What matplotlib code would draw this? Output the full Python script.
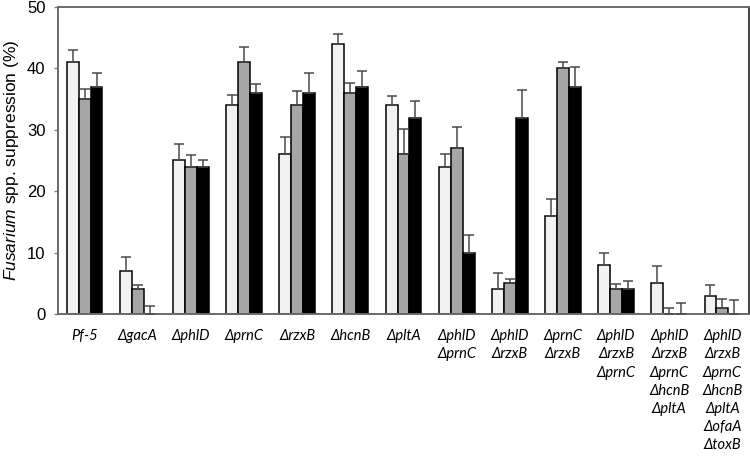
import numpy as np
import matplotlib
matplotlib.use("Agg")
import matplotlib.pyplot as plt

plt.rcParams['mathtext.fontset'] = 'custom'
plt.rcParams['mathtext.rm'] = 'Liberation Sans'
plt.rcParams['mathtext.it'] = 'Liberation Sans:italic'

# ---------------- data ----------------
strains = ["Pf-5", "ΔgacA", "ΔphlD", "ΔprnC", "ΔrzxB", "ΔhcnB", "ΔpltA",
           "ΔphlD\nΔprnC", "ΔphlD\nΔrzxB", "ΔprnC\nΔrzxB",
           "ΔphlD\nΔrzxB\nΔprnC",
           "ΔphlD\nΔrzxB\nΔprnC\nΔhcnB\nΔpltA",
           "ΔphlD\nΔrzxB\nΔprnC\nΔhcnB\nΔpltA\nΔofaA\nΔtoxB"]

light = [41, 7, 25, 34, 26, 44, 34, 24, 4, 16, 8, 5, 3]
light_err = [2.0, 2.3, 2.7, 1.6, 2.8, 1.6, 1.5, 2.1, 2.6, 2.7, 1.9, 2.8, 1.8]

grey = [35, 4, 24, 41, 34, 36, 26, 27, 5, 40, 4, 0, 1]
grey_err = [1.6, 0.7, 1.9, 2.5, 2.3, 1.7, 4.2, 3.5, 0.7, 1.0, 0.9, 1.0, 1.5]

black = [37, 0, 24, 36, 36, 37, 32, 10, 32, 37, 4, 0, 0]
black_err = [2.3, 1.3, 1.0, 1.4, 3.3, 2.6, 2.7, 2.8, 4.4, 3.2, 1.3, 1.8, 2.3]
# --------------------------------------

series = [(light, light_err, "#f2f2f2"),
          (grey, grey_err, "#a6a6a6"),
          (black, black_err, "#000000")]

fig = plt.figure(figsize=(7.5, 4.65), dpi=100)
ax = fig.add_axes([0.0773, 0.3247, 0.9214, 0.6603])

x = np.arange(len(strains))
w = 0.225

for k, (vals, errs, col) in enumerate(series):
    pos = x + (k - 1) * w
    ax.bar(pos, vals, width=w, color=col, edgecolor="black", linewidth=1.1, zorder=2)
    ax.errorbar(pos, vals, yerr=[np.zeros(len(vals)), errs], fmt="none",
                ecolor="#4a4a4a", elinewidth=1.1, capsize=3.5, capthick=1.1, zorder=3)

ax.set_xlim(-0.5, len(strains) - 0.5)
ax.set_ylim(0, 50)
ax.set_yticks(range(0, 51, 10))
ax.tick_params(axis="y", length=3, width=1, color="#808080", labelsize=12, pad=6)
for t in ax.get_yticklabels():
    t.set_fontfamily("Liberation Sans")

ax.set_xticks(x)
ax.set_xticklabels(strains, fontstyle="italic", fontsize=10.5,
                   family=["Lato", "DejaVu Sans"], linespacing=1.38, va="top")
ax.tick_params(axis="x", length=0, pad=11)

for side in ["left", "bottom", "top"]:
    ax.spines[side].set_color("#6a6a6a")
    ax.spines[side].set_linewidth(1.4)
ax.spines["right"].set_color("#222222")
ax.spines["right"].set_linewidth(1.2)

ax.set_ylabel(r"$\it{Fusarium}$ spp. suppression (%)", fontsize=12.5,
              family="Liberation Sans", labelpad=4)

fig.savefig("out.png", dpi=100)
